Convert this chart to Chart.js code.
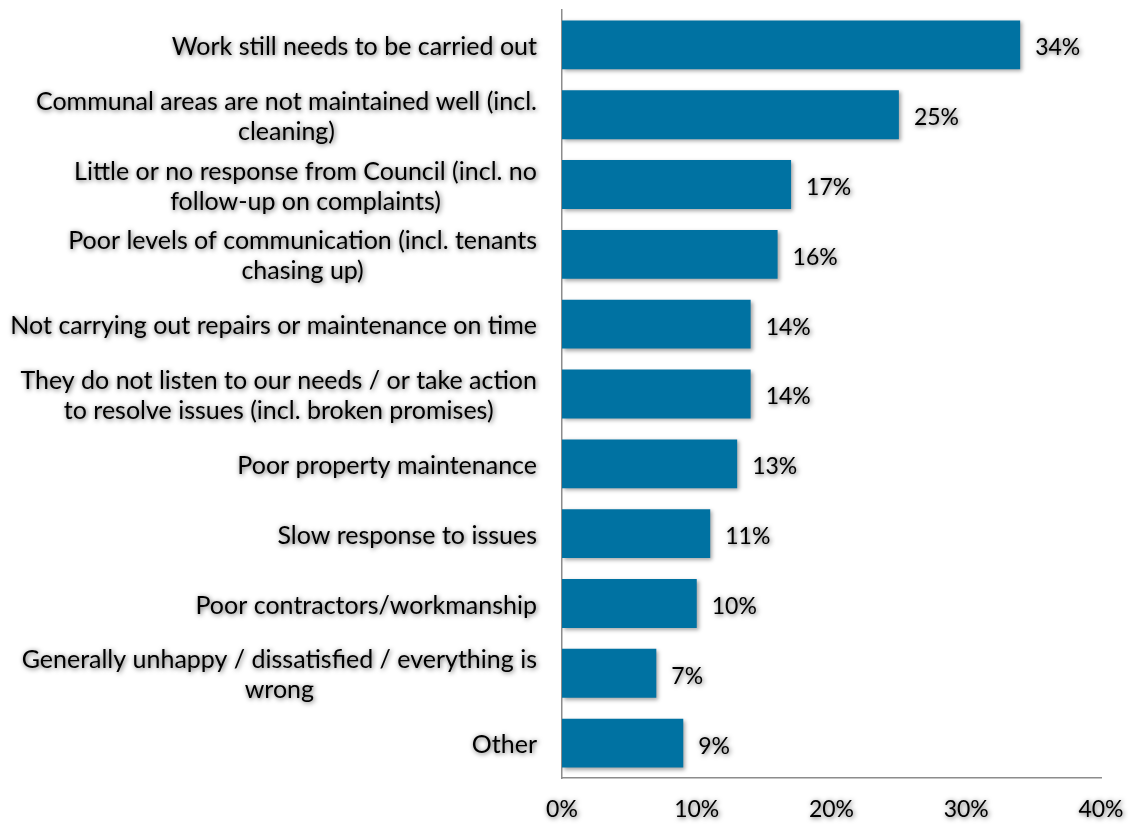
<!DOCTYPE html>
<html>
<head>
<meta charset="utf-8">
<script src="https://cdn.jsdelivr.net/npm/chart.js@4.4.1/dist/chart.umd.min.js"></script>
<style>
  html, body { margin: 0; padding: 0; background: #ffffff; }
  #wrap { width: 1131px; height: 825px; position: relative; }
</style>
</head>
<body>
<div id="wrap"><canvas id="chart" width="1131" height="825"></canvas></div>
<script>
// Reasons given for dissatisfaction (share of respondents, %)
const categories = [
  ["Work still needs to be carried out"],
  ["Communal areas are not maintained well (incl.", "cleaning)"],
  ["Little or no response from Council (incl. no", "follow-up on complaints)"],
  ["Poor levels of communication (incl. tenants", "chasing up)"],
  ["Not carrying out repairs or maintenance on time"],
  ["They do not listen to our needs / or take action", "to resolve issues (incl. broken promises)"],
  ["Poor property maintenance"],
  ["Slow response to issues"],
  ["Poor contractors/workmanship"],
  ["Generally unhappy / dissatisfied / everything is", "wrong"],
  ["Other"]
];
const percentages = [34, 25, 17, 16, 14, 14, 13, 11, 10, 7, 9];
const xTicks = [0, 10, 20, 30, 40];

const FONT = 'Lato, "Open Sans", sans-serif';
const LABEL_SIZE = 25;
const VALUE_SIZE = 23;
const BAR_COLOR = '#0072a2';
const AXIS_COLOR = '#8c8c8c';

function glow(ctx) {
  ctx.shadowColor = 'rgba(0,0,0,0.65)';
  ctx.shadowBlur = 5;
  ctx.shadowOffsetX = 1;
  ctx.shadowOffsetY = 1;
}

// Bar shadows, value labels and category labels (lines centred within each label, block right-aligned)
const decorations = {
  id: 'decorations',
  beforeDatasetsDraw(chart) {
    const ctx = chart.ctx;
    ctx.save();
    ctx.shadowColor = 'rgba(0,0,0,0.35)';
    ctx.shadowBlur = 4;
    ctx.shadowOffsetX = 2;
    ctx.shadowOffsetY = 2;
  },
  afterDatasetsDraw(chart) {
    const ctx = chart.ctx;
    ctx.restore();
    const meta = chart.getDatasetMeta(0);
    const yScale = chart.scales.y;

    ctx.save();
    glow(ctx);
    ctx.fillStyle = '#000000';
    ctx.textBaseline = 'middle';

    // value labels
    ctx.font = VALUE_SIZE + 'px ' + FONT;
    ctx.textAlign = 'left';
    meta.data.forEach((bar, i) => {
      ctx.fillText(percentages[i] + '%', bar.x + 15, bar.y + 3);
    });

    // category labels
    ctx.font = LABEL_SIZE + 'px ' + FONT;
    const rightEdge = yScale.right - 25;
    const lineH = 30;
    categories.forEach((lines, i) => {
      const cy = yScale.getPixelForTick(i) + 2;
      const widths = lines.map(l => ctx.measureText(l).width);
      const widest = Math.max(...widths);
      const centerX = rightEdge - widest / 2;
      ctx.textAlign = 'center';
      const startY = cy - (lines.length - 1) * lineH / 2;
      lines.forEach((l, j) => ctx.fillText(l, centerX, startY + j * lineH));
    });
    // glow stays active for the x tick labels layer (z: 1)
  },
  afterDraw(chart) {
    chart.ctx.restore();
  }
};

new Chart(document.getElementById('chart'), {
  type: 'bar',
  data: {
    labels: categories,
    datasets: [{
      data: percentages,
      backgroundColor: BAR_COLOR,
      borderWidth: 0,
      barPercentage: 0.7,
      categoryPercentage: 1.0
    }]
  },
  options: {
    indexAxis: 'y',
    responsive: false,
    animation: false,
    devicePixelRatio: 1,
    layout: { padding: { top: 10, right: 30, left: 0, bottom: 0 } },
    plugins: {
      legend: { display: false },
      tooltip: { enabled: false }
    },
    scales: {
      x: {
        min: 0,
        max: 40,
        afterBuildTicks(scale) {
          scale.ticks = xTicks.map(v => ({ value: v }));
        },
        afterFit(scale) {
          scale.height = 47;
          scale.paddingLeft = 0;
          scale.paddingRight = 0;
        },
        grid: { display: false, drawTicks: false },
        border: { display: true, color: AXIS_COLOR, width: 1.5 },
        ticks: {
          z: 1,
          padding: 18,
          color: '#000000',
          font: { family: FONT, size: VALUE_SIZE },
          callback: v => v + '%'
        }
      },
      y: {
        afterFit(scale) {
          scale.width = 562;
          scale.paddingTop = 0;
          scale.paddingBottom = 0;
        },
        grid: { display: false, drawTicks: false },
        border: { display: true, color: AXIS_COLOR, width: 1.5 },
        ticks: { display: false }
      }
    }
  },
  plugins: [decorations]
});
</script>
</body>
</html>
